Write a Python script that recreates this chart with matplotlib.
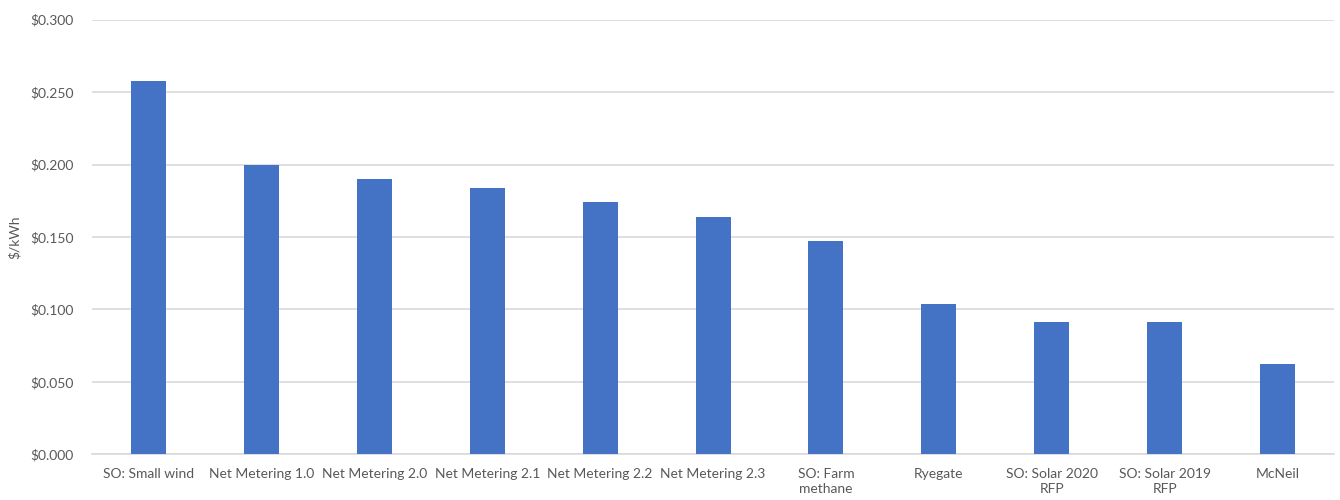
import matplotlib
matplotlib.use('Agg')
import matplotlib.pyplot as plt
import numpy as np
from matplotlib.ticker import FuncFormatter

# cost per kWh by resource
categories = ['SO: Small wind', 'Net Metering 1.0', 'Net Metering 2.0', 'Net Metering 2.1',
              'Net Metering 2.2', 'Net Metering 2.3', 'SO: Farm\nmethane', 'Ryegate',
              'SO: Solar 2020\nRFP', 'SO: Solar 2019\nRFP', 'McNeil']
costs = [0.258, 0.200, 0.190, 0.184, 0.174, 0.164, 0.147, 0.104, 0.091, 0.091, 0.062]
yticks = [0.0, 0.05, 0.10, 0.15, 0.20, 0.25, 0.30]

txt = '#595959'
plt.rcParams['font.family'] = ['Lato', 'DejaVu Sans']

fig = plt.figure(figsize=(13.4, 5), dpi=100)
ax = fig.add_axes([0.0687, 0.0914, 0.9268, 0.8692])

x = np.arange(len(categories))
ax.bar(x, costs, width=0.31, color='#4472C4', zorder=3)

ax.set_xlim(-0.5, len(categories) - 0.5)
ax.set_ylim(0, 0.3)
ax.set_yticks(yticks)
ax.yaxis.set_major_formatter(FuncFormatter(lambda v, p: '$%.3f' % v))
ax.set_xticks(x)
ax.set_xticklabels(categories, fontsize=10, color=txt, linespacing=1.3)
ax.tick_params(axis='y', labelsize=10, labelcolor=txt, length=0, pad=13)
ax.tick_params(axis='x', length=0, pad=10)
ax.grid(axis='y', color='#D9D9D9', linewidth=1.2, zorder=0)
for s in ['top', 'right', 'left']:
    ax.spines[s].set_visible(False)
ax.spines['bottom'].set_color('#D9D9D9')
ax.spines['bottom'].set_linewidth(1.2)
ax.set_ylabel('$/kWh', fontsize=10, color=txt, labelpad=7)

fig.savefig('out.png', dpi=100)
